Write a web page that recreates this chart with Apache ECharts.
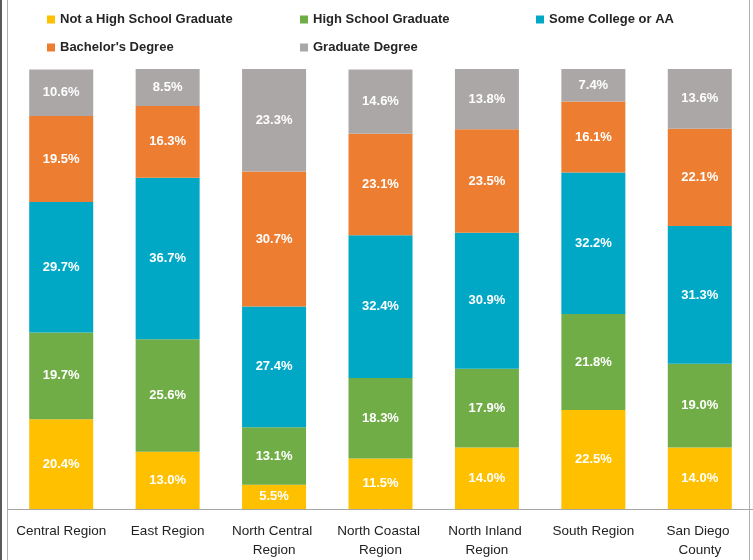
<!DOCTYPE html>
<html>
<head>
<meta charset="utf-8">
<script src="https://cdn.jsdelivr.net/npm/echarts@6/dist/echarts.min.js"></script>
<style>
  html, body { margin: 0; padding: 0; background: #fff; }
  #chart { width: 753px; height: 560px; }
</style>
</head>
<body>
<div id="chart"></div>
<script>
const regions = ["Central Region", "East Region", "North Central Region", "North Coastal Region", "North Inland Region", "South Region", "San Diego County"];
const seriesNames = ["Not a High School Graduate", "High School Graduate", "Some College or AA", "Bachelor's Degree", "Graduate Degree"];
const notHsGrad = [20.4, 13.0, 5.5, 11.5, 14.0, 22.5, 14.0];
const hsGrad = [19.7, 25.6, 13.1, 18.3, 17.9, 21.8, 19.0];
const someCollege = [29.7, 36.7, 27.4, 32.4, 30.9, 32.2, 31.3];
const bachelors = [19.5, 16.3, 30.7, 23.1, 23.5, 16.1, 22.1];
const graduate = [10.6, 8.5, 23.3, 14.6, 13.8, 7.4, 13.6];
const colors = ["#FFC000", "#70AD47", "#00A8C6", "#ED7D31", "#ABA7A7"];

const values = [notHsGrad, hsGrad, someCollege, bachelors, graduate];
const font = "'Liberation Sans', Arial, sans-serif";

// one legend per item so they line up in columns like the original
const legendPos = [[42, 8], [295, 8], [531, 8], [42, 36], [295, 36]];
const legends = seriesNames.map((name, i) => ({
  data: [name],
  left: legendPos[i][0],
  top: legendPos[i][1],
  itemWidth: 8,
  itemHeight: 8,
  itemGap: 0,
  icon: "rect",
  textStyle: { fontFamily: font, fontSize: 13, fontWeight: "bold", color: "#262626" }
}));

const chart = echarts.init(document.getElementById("chart"));
chart.setOption({
  animation: false,
  color: colors,
  legend: legends,
  grid: { left: 8, right: 0, top: 69, bottom: 47 },
  xAxis: {
    type: "category",
    data: regions,
    axisLine: { lineStyle: { color: "#a6a6a6", width: 1 } },
    axisTick: { show: false },
    axisLabel: {
      fontFamily: font,
      fontSize: 13.5,
      color: "#222",
      margin: 13,
      lineHeight: 19,
      width: 98,
      overflow: "break",
      interval: 0
    }
  },
  yAxis: {
    type: "value",
    min: 0,
    max: 100,
    show: false,
    splitLine: { show: false }
  },
  series: values.map((vals, i) => ({
    name: seriesNames[i],
    type: "bar",
    stack: "total",
    barWidth: 64,
    data: vals,
    itemStyle: { color: colors[i] },
    label: {
      show: true,
      position: "inside",
      formatter: p => p.value.toFixed(1) + "%",
      color: "#fff",
      fontFamily: font,
      fontSize: 13,
      fontWeight: "bold"
    }
  })),
  graphic: [
    { type: "rect", shape: { x: 0, y: 0, width: 2, height: 560 }, style: { fill: "#5a5a5a" } },
    { type: "line", shape: { x1: 7.5, y1: 0, x2: 7.5, y2: 560 }, style: { stroke: "#b0b0b0", lineWidth: 1 } },
    { type: "line", shape: { x1: 749.5, y1: 0, x2: 749.5, y2: 560 }, style: { stroke: "#b0b0b0", lineWidth: 1 } }
  ]
});
</script>
</body>
</html>
